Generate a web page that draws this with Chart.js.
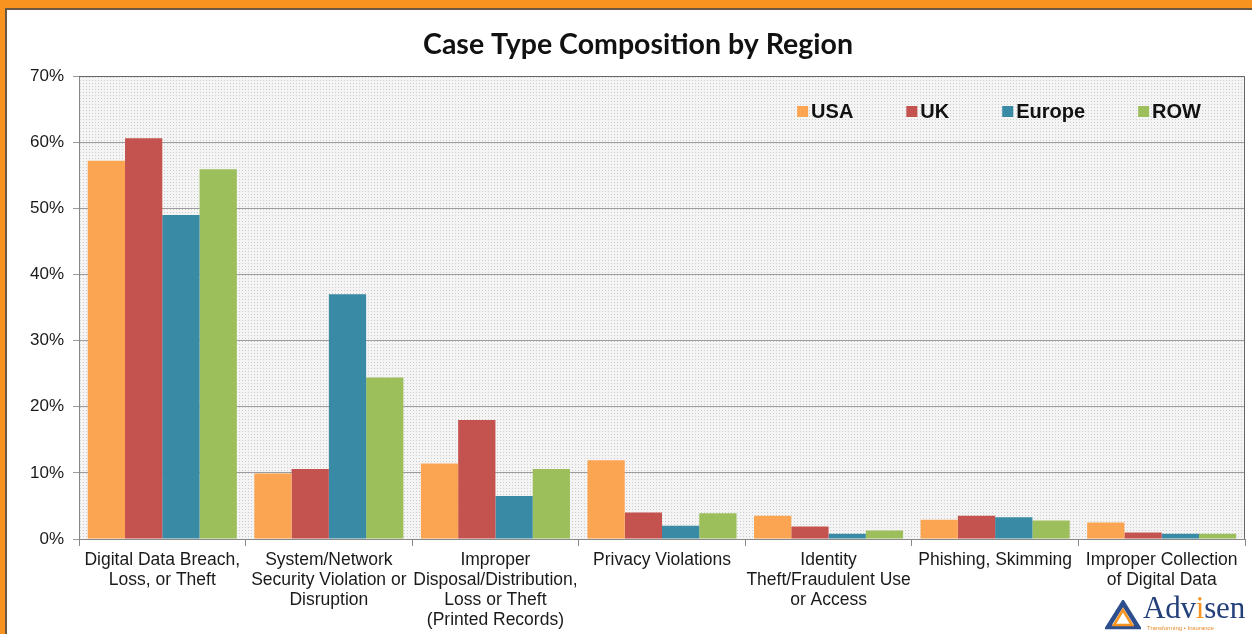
<!DOCTYPE html>
<html lang="en">

<head>
    <meta charset="UTF-8">
    <title>Case Type Composition by Region</title>
    <script src="https://cdn.jsdelivr.net/npm/chart.js"></script>
    <style>
        html,
        body {
            margin: 0;
            padding: 0;
            width: 1252px;
            height: 634px;
            overflow: hidden;
            background: #f7931e;
        }

        .panel {
            position: absolute;
            left: 5px;
            top: 8px;
            width: 1260px;
            height: 640px;
            background: #fff;
            border-top: 2px solid #6b5844;
            border-left: 2px solid #6b5844;
        }

        .chart-box {
            position: absolute;
            left: 0px;
            top: 0px;
            width: 1245px;
            height: 624px;
        }

        .logo {
            position: absolute;
            left: 1098px;
            top: 580px;
            width: 154px;
            height: 50px;
        }

        .logo svg {
            position: absolute;
            left: 0px;
            top: 10px;
        }

        .logo .name {
            position: absolute;
            left: 38px;
            top: 0px;
            font-family: "Liberation Serif", serif;
            font-size: 31px;
            color: #23407a;
            letter-spacing: -0.2px;
        }

        .logo .name span {
            color: #f7931e;
        }

        .logo .tag {
            position: absolute;
            left: 42px;
            top: 35px;
            font-family: "Liberation Sans", sans-serif;
            font-size: 6px;
            color: #e98a2a;
            white-space: nowrap;
        }
    </style>
</head>

<body>
    <div class="panel">
        <div class="chart-box">
            <canvas id="myChart"></canvas>
        </div>
        <div class="logo">
            <svg width="36" height="30" viewBox="0 0 36 30">
                <polygon points="18,3 33,27 3,27" fill="none" stroke="#2d4f8e" stroke-width="4.5" />
                <polygon points="18,10 27,25 9,25" fill="none" stroke="#f7931e" stroke-width="2.5" />
            </svg>
            <div class="name">Adv<span>i</span>sen</div>
            <div class="tag">Transforming • Insurance</div>
        </div>
    </div>

    <script>
        // 資料
        const chartTitle = 'Case Type Composition by Region';
        const categories = [
            ['Digital Data Breach,', 'Loss, or Theft'],
            ['System/Network', 'Security Violation or', 'Disruption'],
            ['Improper', 'Disposal/Distribution,', 'Loss or Theft', '(Printed Records)'],
            'Privacy Violations',
            ['Identity', 'Theft/Fraudulent Use', 'or Access'],
            'Phishing, Skimming',
            ['Improper Collection', 'of Digital Data']
        ];
        const seriesNames = ['USA', 'UK', 'Europe', 'ROW'];
        const usa = [57.2, 9.9, 11.4, 11.9, 3.5, 2.9, 2.5];
        const uk = [60.6, 10.6, 18.0, 4.0, 1.9, 3.5, 1.0];
        const europe = [49.0, 37.0, 6.5, 2.0, 0.8, 3.3, 0.8];
        const row = [55.9, 24.4, 10.6, 3.9, 1.3, 2.8, 0.8];
        const yTicks = [0, 10, 20, 30, 40, 50, 60, 70];

        const colors = ['#fba552', '#c4524f', '#398aa4', '#9dbf5b'];
        const allSeries = [usa, uk, europe, row];

        // 灰色點點背景
        function makePattern(ctx) {
            const p = document.createElement('canvas');
            p.width = 3;
            p.height = 3;
            const pc = p.getContext('2d');
            pc.fillStyle = '#f4f4f4';
            pc.fillRect(0, 0, 3, 3);
            pc.fillStyle = '#cdcdcd';
            pc.fillRect(1, 1, 1, 1);
            return ctx.createPattern(p, 'repeat');
        }

        const plotBackground = {
            id: 'plotBackground',
            beforeDraw(chart) {
                const { ctx, chartArea: a } = chart;
                ctx.save();
                ctx.fillStyle = makePattern(ctx);
                ctx.fillRect(a.left, a.top, a.right - a.left, a.bottom - a.top);
                // 標題
                ctx.fillStyle = '#111';
                ctx.font = 'bold 28.5px Lato, sans-serif';
                ctx.textAlign = 'center';
                ctx.textBaseline = 'middle';
                ctx.fillText(chartTitle, 631, 35);
                ctx.restore();
            },
            beforeDatasetsDraw(chart) {
                // 上框線和右框線
                const { ctx, chartArea: a } = chart;
                ctx.save();
                ctx.strokeStyle = '#666';
                ctx.lineWidth = 1;
                ctx.beginPath();
                ctx.moveTo(a.left, a.top + 0.5);
                ctx.lineTo(a.right - 0.5, a.top + 0.5);
                ctx.lineTo(a.right - 0.5, a.bottom);
                ctx.stroke();
                ctx.restore();
            }
        };

        // 圖例畫在圖表區裡面右上角
        const insideLegend = {
            id: 'insideLegend',
            afterDraw(chart) {
                const { ctx, chartArea: a } = chart;
                const gap = 53;
                ctx.save();
                ctx.font = 'bold 20px "Liberation Sans", Arial, sans-serif';
                ctx.textBaseline = 'middle';
                let total = 0;
                chart.data.datasets.forEach(function (ds, i) {
                    total += 14 + ctx.measureText(ds.label).width + (i < 3 ? gap : 0);
                });
                let x = a.right - 44 - total;
                const y = a.top + 35;
                chart.data.datasets.forEach(function (ds) {
                    ctx.fillStyle = ds.backgroundColor;
                    ctx.fillRect(x, y - 5, 11, 11);
                    ctx.fillStyle = '#111';
                    ctx.fillText(ds.label, x + 14, y + 1);
                    x += 14 + ctx.measureText(ds.label).width + gap;
                });
                ctx.restore();
            }
        };

        const ctx = document.getElementById('myChart');
        const myChart = new Chart(ctx, {
            type: 'bar',
            data: {
                labels: categories,
                datasets: seriesNames.map(function (name, i) {
                    return {
                        label: name,
                        data: allSeries[i],
                        backgroundColor: colors[i],
                        borderWidth: 0,
                        categoryPercentage: 0.895,
                        barPercentage: 1.0
                    };
                })
            },
            options: {
                responsive: true,
                maintainAspectRatio: false,
                animation: false,
                layout: {
                    padding: { left: 0, right: 7, top: 66, bottom: 0 }
                },
                plugins: {
                    legend: { display: false },
                    tooltip: { enabled: false },
                    title: { display: false }
                },
                scales: {
                    x: {
                        grid: {
                            offset: true,
                            drawOnChartArea: false,
                            drawTicks: true,
                            tickLength: 7,
                            color: '#888'
                        },
                        border: { color: '#888' },
                        ticks: {
                            autoSkip: false,
                            maxRotation: 0,
                            minRotation: 0,
                            padding: 4,
                            color: '#1a1a1a',
                            font: { family: '"Liberation Sans", Arial, sans-serif', size: 17.5, lineHeight: 1.14 }
                        },
                        afterFit: function (axis) {
                            axis.height = 95;
                        }
                    },
                    y: {
                        min: 0,
                        max: 70,
                        afterBuildTicks: function (axis) {
                            axis.ticks = yTicks.map(function (v) { return { value: v }; });
                        },
                        grid: {
                            color: '#9c9c9c',
                            tickLength: 6,
                            drawTicks: true
                        },
                        border: { color: '#888' },
                        ticks: {
                            padding: 9,
                            color: '#1a1a1a',
                            font: { family: '"Liberation Sans", Arial, sans-serif', size: 17 },
                            callback: function (v) { return v + '%'; }
                        },
                        afterFit: function (axis) {
                            axis.width = 72;
                        }
                    }
                }
            },
            plugins: [plotBackground, insideLegend]
        });
    </script>
</body>

</html>
